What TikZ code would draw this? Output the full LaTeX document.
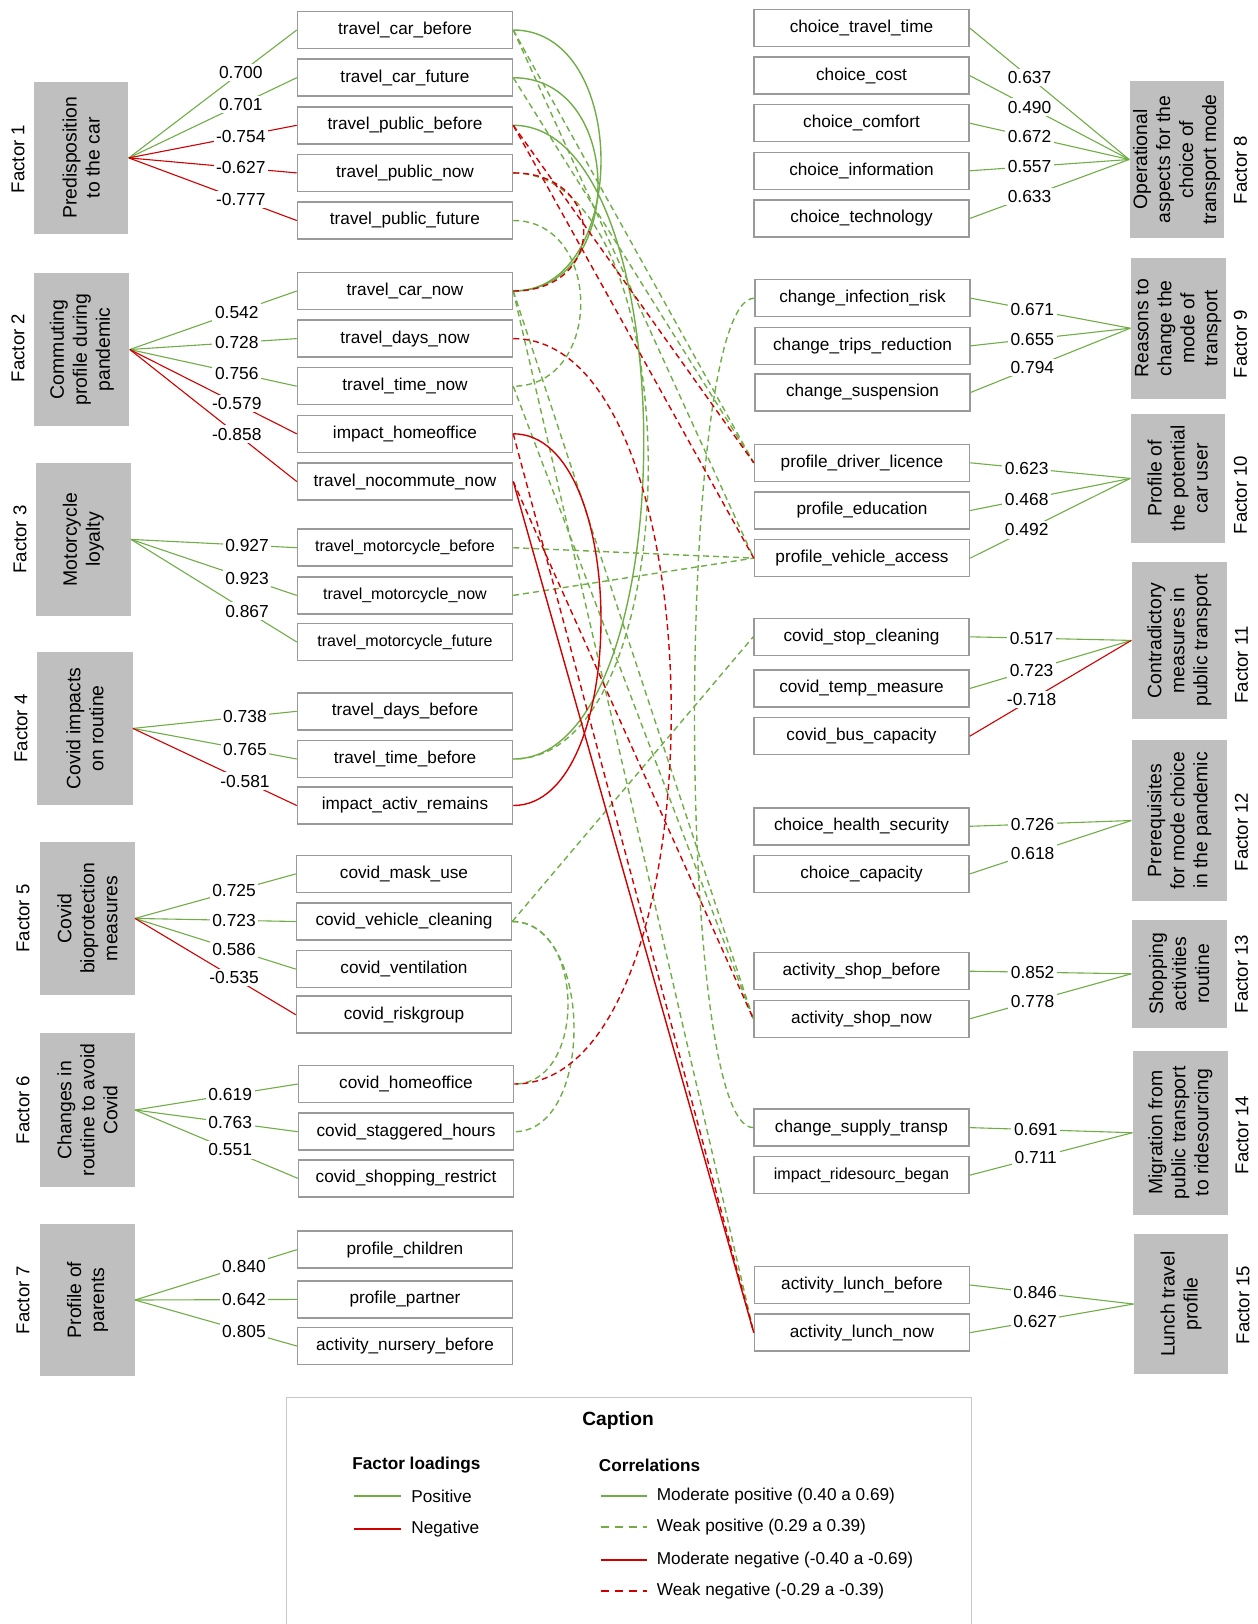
\documentclass[tikz,border=0pt]{standalone}
\usepackage{fontspec}
\setmainfont{Liberation Sans}
\definecolor{lgreen}{HTML}{70AD47}
\definecolor{lred}{HTML}{D00000}
\definecolor{boxgray}{HTML}{9A9A9A}
\definecolor{facgray}{HTML}{BFBFBF}
\definecolor{leggray}{HTML}{C8C8C8}
\tikzset{
  vbox/.style={draw=boxgray, line width=0.75pt, fill=white, minimum width=107.5pt, minimum height=18.5pt, inner sep=0pt, font=\fontsize{8.6}{10}\selectfont},
  vsmall/.style={font=\fontsize{8}{10}\selectfont},
  facbox/.style={fill=facgray, inner sep=0pt},
  factxt/.style={rotate=90, align=center, inner sep=0pt, font=\fontsize{9.7}{11.5}\selectfont},
  facnum/.style={rotate=90, inner sep=0pt, font=\fontsize{9.3}{11}\selectfont},
  load/.style={fill=white, inner sep=1.3pt, font=\fontsize{8.7}{10}\selectfont},
  lpos/.style={draw=lgreen, line width=0.55pt},
  lneg/.style={draw=lred, line width=0.55pt},
  cgs/.style={draw=lgreen, line width=0.7pt},
  cgd/.style={draw=lgreen, line width=0.7pt, dash pattern=on 3pt off 2pt},
  crs/.style={draw=lred, line width=0.7pt},
  crd/.style={draw=lred, line width=0.7pt, dash pattern=on 3pt off 2pt},
  legtxt/.style={anchor=west, inner sep=0pt, font=\fontsize{8.6}{10}\selectfont},
  leghead/.style={anchor=west, inner sep=0pt, font=\fontsize{8.6}{10}\selectfont\bfseries},
}
\begin{document}
\begin{tikzpicture}[x=0.5pt,y=-0.5pt]
\useasboundingbox (0,0) rectangle (1258,1624);

% ---------- left variable boxes ----------
\node[vbox] (carB) at (405,30) {travel\_car\_before};
\node[vbox] (carF) at (405,77.7) {travel\_car\_future};
\node[vbox] (pubB) at (405,125.3) {travel\_public\_before};
\node[vbox] (pubN) at (405,172.9) {travel\_public\_now};
\node[vbox] (pubF) at (405,220.5) {travel\_public\_future};
\node[vbox] (carN) at (405,291) {travel\_car\_now};
\node[vbox] (daysN) at (405,338.6) {travel\_days\_now};
\node[vbox] (timeN) at (405,386.2) {travel\_time\_now};
\node[vbox] (homeoff) at (405,433.8) {impact\_homeoffice};
\node[vbox] (nocomm) at (405,481.5) {travel\_nocommute\_now};
\node[vbox, vsmall] (motoB) at (405,547.7) {travel\_motorcycle\_before};
\node[vbox, vsmall] (motoN) at (405,595.4) {travel\_motorcycle\_now};
\node[vbox, vsmall] (motoF) at (405,642) {travel\_motorcycle\_future};
\node[vbox] (daysB) at (405,711.3) {travel\_days\_before};
\node[vbox] (timeB) at (405,759) {travel\_time\_before};
\node[vbox] (activ) at (405,805.5) {impact\_activ\_remains};
\node[vbox] (mask) at (404,873.9) {covid\_mask\_use};
\node[vbox] (vclean) at (404,921.5) {covid\_vehicle\_cleaning};
\node[vbox] (vent) at (404,969.1) {covid\_ventilation};
\node[vbox] (risk) at (404,1014.7) {covid\_riskgroup};
\node[vbox] (chome) at (406,1084) {covid\_homeoffice};
\node[vbox] (stag) at (406,1131.7) {covid\_staggered\_hours};
\node[vbox] (shoprest) at (406,1178.3) {covid\_shopping\_restrict};
\node[vbox] (child) at (405,1249.7) {profile\_children};
\node[vbox] (partner) at (405,1299.4) {profile\_partner};
\node[vbox] (nursery) at (405,1346) {activity\_nursery\_before};

% ---------- right variable boxes ----------
\node[vbox] (ctime) at (861.5,28) {choice\_travel\_time};
\node[vbox] (ccost) at (861.5,75.6) {choice\_cost};
\node[vbox] (ccomf) at (861.5,123.2) {choice\_comfort};
\node[vbox] (cinfo) at (861.5,170.8) {choice\_information};
\node[vbox] (ctech) at (861.5,218.5) {choice\_technology};
\node[vbox] (infect) at (862.5,298.2) {change\_infection\_risk};
\node[vbox] (trips) at (862.5,345.8) {change\_trips\_reduction};
\node[vbox] (susp) at (862.5,392.4) {change\_suspension};
\node[vbox] (licence) at (862,462.8) {profile\_driver\_licence};
\node[vbox] (educ) at (862,510.5) {profile\_education};
\node[vbox] (vaccess) at (862,558.1) {profile\_vehicle\_access};
\node[vbox] (stopcl) at (861.5,636.8) {covid\_stop\_cleaning};
\node[vbox] (tempm) at (861.5,688.5) {covid\_temp\_measure};
\node[vbox] (busc) at (861.5,736.2) {covid\_bus\_capacity};
\node[vbox] (health) at (861.5,826.3) {choice\_health\_security};
\node[vbox] (capac) at (861.5,873.9) {choice\_capacity};
\node[vbox] (shopB) at (861.5,971.2) {activity\_shop\_before};
\node[vbox] (shopN) at (861.5,1018.8) {activity\_shop\_now};
\node[vbox] (supply) at (861.5,1127.6) {change\_supply\_transp};
\node[vbox, vsmall] (rides) at (861.5,1175.2) {impact\_ridesourc\_began};
\node[vbox] (lunchB) at (862,1285) {activity\_lunch\_before};
\node[vbox] (lunchN) at (862,1332.6) {activity\_lunch\_now};

% ---------- left factor boxes ----------
\node[facbox, minimum width=47.1pt, minimum height=76pt] (F1) at (81.3,157.9) {};
\node[factxt] (F1t) at (F1) {Predisposition\\to the car};
\node[facnum] (F1n) at (18,159) {Factor 1};
\node[facbox, minimum width=47.6pt, minimum height=76.2pt] (F2) at (81.8,349.5) {};
\node[factxt] (F2t) at (F2) {Commuting\\profile during\\pandemic};
\node[facnum] (F2n) at (18,348) {Factor 2};
\node[facbox, minimum width=47.2pt, minimum height=76.6pt] (F3) at (83.4,539.4) {};
\node[factxt] (F3t) at (F3) {Motorcycle\\loyalty};
\node[facnum] (F3n) at (20,539.4) {Factor 3};
\node[facbox, minimum width=47.6pt, minimum height=76.1pt] (F4) at (84.9,728.4) {};
\node[factxt] (F4t) at (F4) {Covid impacts\\on routine};
\node[facnum] (F4n) at (21,728.4) {Factor 4};
\node[facbox, minimum width=47.1pt, minimum height=76.6pt] (F5) at (87.5,918.4) {};
\node[factxt] (F5t) at (F5) {Covid\\bioprotection\\measures};
\node[facnum] (F5n) at (23,918.4) {Factor 5};
\node[facbox, minimum width=47.1pt, minimum height=76.6pt] (F6) at (87.5,1110) {};
\node[factxt] (F6t) at (F6) {Changes in\\routine to avoid\\Covid};
\node[facnum] (F6n) at (23,1110) {Factor 6};
\node[facbox, minimum width=47.1pt, minimum height=76.1pt] (F7) at (87.5,1300) {};
\node[factxt] (F7t) at (F7) {Profile of\\parents};
\node[facnum] (F7n) at (23,1300) {Factor 7};

% ---------- right factor boxes ----------
\node[facbox, minimum width=47.1pt, minimum height=78.7pt] (F8) at (1176.7,159.5) {};
\node[factxt] (F8t) at (F8) {Operational\\aspects for the\\choice of\\transport mode};
\node[facnum] (F8n) at (1240.5,170) {Factor 8};
\node[facbox, minimum width=47.6pt, minimum height=70.4pt] (F9) at (1178.3,328.2) {};
\node[factxt] (F9t) at (F9) {Reasons to\\change the\\mode of\\transport};
\node[facnum] (F9n) at (1240.5,344) {Factor 9};
\node[facbox, minimum width=47.1pt, minimum height=64.1pt] (F10) at (1177.8,478.4) {};
\node[factxt] (F10t) at (F10) {Profile of\\the potential\\car user};
\node[facnum] (F10n) at (1240.5,495) {Factor 10};
\node[facbox, minimum width=47.6pt, minimum height=78.2pt] (F11) at (1179.3,640.4) {};
\node[factxt] (F11t) at (F11) {Contradictory\\measures in\\public transport};
\node[facnum] (F11n) at (1241.5,665) {Factor 11};
\node[facbox, minimum width=47.6pt, minimum height=80.3pt] (F12) at (1179.3,820.5) {};
\node[factxt] (F12t) at (F12) {Prerequisites\\for mode choice\\in the pandemic};
\node[facnum] (F12n) at (1241.5,832) {Factor 12};
\node[facbox, minimum width=47.6pt, minimum height=54.3pt] (F13) at (1179.3,973.8) {};
\node[factxt] (F13t) at (F13) {Shopping\\activities\\routine};
\node[facnum] (F13n) at (1241.5,974) {Factor 13};
\node[facbox, minimum width=47.6pt, minimum height=81.8pt] (F14) at (1180.4,1132.7) {};
\node[factxt] (F14t) at (F14) {Migration from\\public transport\\to ridesourcing};
\node[facnum] (F14n) at (1242,1135) {Factor 14};
\node[facbox, minimum width=47.1pt, minimum height=69.9pt] (F15) at (1181,1304) {};
\node[factxt] (F15t) at (F15) {Lunch travel\\profile};
\node[facnum] (F15n) at (1243,1305) {Factor 15};

% ---------- factor loadings ----------
\draw[lpos] (F1.east) -- node[load,pos=.667] {0.700} (carB.west);
\draw[lpos] (F1.east) -- node[load,pos=.667] {0.701} (carF.west);
\draw[lneg] (F1.east) -- node[load,pos=.667] {-0.754} (pubB.west);
\draw[lneg] (F1.east) -- node[load,pos=.667] {-0.627} (pubN.west);
\draw[lneg] (F1.east) -- node[load,pos=.667] {-0.777} (pubF.west);

\draw[lpos] (F2.east) -- node[load,pos=.641] {0.542} (carN.west);
\draw[lpos] (F2.east) -- node[load,pos=.641] {0.728} (daysN.west);
\draw[lpos] (F2.east) -- node[load,pos=.641] {0.756} (timeN.west);
\draw[lneg] (F2.east) -- node[load,pos=.641] {-0.579} (homeoff.west);
\draw[lneg] (F2.east) -- node[load,pos=.641] {-0.858} (nocomm.west);

\draw[lpos] (F3.east) -- node[load,pos=.70] {0.927} (motoB.west);
\draw[lpos] (F3.east) -- node[load,pos=.70] {0.923} (motoN.west);
\draw[lpos] (F3.east) -- node[load,pos=.70] {0.867} (motoF.west);

\draw[lpos] (F4.east) -- node[load,pos=.684] {0.738} (daysB.west);
\draw[lpos] (F4.east) -- node[load,pos=.684] {0.765} (timeB.west);
\draw[lneg] (F4.east) -- node[load,pos=.684] {-0.581} (activ.west);

\draw[lpos] (F5.east) -- node[load,pos=.616] {0.725} (mask.west);
\draw[lpos] (F5.east) -- node[load,pos=.616] {0.723} (vclean.west);
\draw[lpos] (F5.east) -- node[load,pos=.616] {0.586} (vent.west);
\draw[lneg] (F5.east) -- node[load,pos=.616] {-0.535} (risk.west);

\draw[lpos] (F6.east) -- node[load,pos=.585] {0.619} (chome.west);
\draw[lpos] (F6.east) -- node[load,pos=.585] {0.763} (stag.west);
\draw[lpos] (F6.east) -- node[load,pos=.585] {0.551} (shoprest.west);

\draw[lpos] (F7.east) -- node[load,pos=.674] {0.840} (child.west);
\draw[lpos] (F7.east) -- node[load,pos=.674] {0.642} (partner.west);
\draw[lpos] (F7.east) -- node[load,pos=.674] {0.805} (nursery.west);

\draw[lpos] (ctime.east) -- node[load,pos=.375] {0.637} (F8.west);
\draw[lpos] (ccost.east) -- node[load,pos=.375] {0.490} (F8.west);
\draw[lpos] (ccomf.east) -- node[load,pos=.375] {0.672} (F8.west);
\draw[lpos] (cinfo.east) -- node[load,pos=.375] {0.557} (F8.west);
\draw[lpos] (ctech.east) -- node[load,pos=.375] {0.633} (F8.west);

\draw[lpos] (infect.east) -- node[load,pos=.386] {0.671} (F9.west);
\draw[lpos] (trips.east) -- node[load,pos=.386] {0.655} (F9.west);
\draw[lpos] (susp.east) -- node[load,pos=.386] {0.794} (F9.west);

\draw[lpos] (licence.east) -- node[load,pos=.353] {0.623} (F10.west);
\draw[lpos] (educ.east) -- node[load,pos=.353] {0.468} (F10.west);
\draw[lpos] (vaccess.east) -- node[load,pos=.353] {0.492} (F10.west);

\draw[lpos] (stopcl.east) -- node[load,pos=.383] {0.517} (F11.west);
\draw[lpos] (tempm.east) -- node[load,pos=.383] {0.723} (F11.west);
\draw[lneg] (busc.east) -- node[load,pos=.383] {-0.718} (F11.west);

\draw[lpos] (health.east) -- node[load,pos=.389] {0.726} (F12.west);
\draw[lpos] (capac.east) -- node[load,pos=.389] {0.618} (F12.west);

\draw[lpos] (shopB.east) -- node[load,pos=.389] {0.852} (F13.west);
\draw[lpos] (shopN.east) -- node[load,pos=.389] {0.778} (F13.west);

\draw[lpos] (supply.east) -- node[load,pos=.406] {0.691} (F14.west);
\draw[lpos] (rides.east) -- node[load,pos=.406] {0.711} (F14.west);

\draw[lpos] (lunchB.east) -- node[load,pos=.397] {0.846} (F15.west);
\draw[lpos] (lunchN.east) -- node[load,pos=.397] {0.627} (F15.west);

% ---------- correlations ----------
% moderate positive
\draw[cgs] (carB.east) .. controls +(117,0) and +(117,0) .. (carN.east);
\draw[cgs] (carF.east) .. controls +(113,0) and +(113,0) .. (carN.east);
\draw[cgs] (pubB.east) .. controls +(174,0) and +(174,0) .. (timeB.east);
% weak positive
\draw[cgd] (pubN.east) .. controls +(180,0) and +(180,0) .. (timeB.east);
\draw[cgd] (pubF.east) .. controls +(90,0) and +(90,0) .. (timeN.east);
\draw[cgd] (vclean.east) .. controls +(73,0) and +(73,0) .. (chome.east);
\draw[cgd] (vclean.east) .. controls +(81,0) and +(81,0) .. (stag.east);
\draw[cgd] (infect.west) .. controls +(-79,0) and +(-79,0) .. (supply.west);
\draw[cgd] (carB.east) -- (licence.west);
\draw[cgd] (carB.east) -- (vaccess.west);
\draw[cgd] (carF.east) -- (licence.west);
\draw[cgd] (motoB.east) -- (vaccess.west);
\draw[cgd] (motoN.east) -- (vaccess.west);
\draw[cgd] (vclean.east) -- (stopcl.west);
\draw[cgd] (carN.east) -- (shopN.west);
\draw[cgd] (timeN.east) -- (shopN.west);
\draw[cgd] (carN.east) -- (lunchN.west);
% moderate negative
\draw[crs] (homeoff.east) .. controls +(117,0) and +(117,0) .. (activ.east);
\draw[crs] (nocomm.east) -- (lunchN.west);
% weak negative
\draw[crd] (pubN.east) .. controls +(94,0) and +(94,0) .. (carN.east);
\draw[crd] (daysN.east) .. controls +(210,0) and +(210,0) .. (chome.east);
\draw[crd] (pubB.east) -- (licence.west);
\draw[crd] (pubB.east) -- (vaccess.west);
\draw[crd] (nocomm.east) -- (shopN.west);
\draw[crd] (homeoff.east) -- (lunchN.west);

% ---------- legend ----------
\coordinate (lgA) at (286.8,1630);
\coordinate (lgB) at (286.8,1397.8);
\coordinate (lgC) at (971.2,1397.8);
\coordinate (lgD) at (971.2,1630);
\draw[draw=leggray, line width=0.6pt] (lgA) -- (lgB) -- (lgC) -- (lgD);
\node[inner sep=0pt, font=\fontsize{9.6}{11}\selectfont\bfseries] (cap) at (618,1421) {Caption};
\node[leghead] (flh) at (352,1465) {Factor loadings};
\node[leghead] (corh) at (598.5,1465) {Correlations};

\coordinate (p1a) at (354,1496); \coordinate (p1b) at (400.7,1496);
\draw[lgreen, line width=1pt] (p1a) -- (p1b);
\node[legtxt] (p1t) at (411,1496) {Positive};
\coordinate (p2a) at (354,1529.3); \coordinate (p2b) at (400.7,1529.3);
\draw[lred, line width=1pt] (p2a) -- (p2b);
\node[legtxt] (p2t) at (411,1529.3) {Negative};

\coordinate (c1a) at (600.5,1496); \coordinate (c1b) at (647,1496);
\draw[lgreen, line width=1pt] (c1a) -- (c1b);
\node[legtxt] (c1t) at (656.5,1496) {Moderate positive (0.40 a 0.69)};
\coordinate (c2a) at (600.5,1527.2); \coordinate (c2b) at (647,1527.2);
\draw[lgreen, line width=1pt, dash pattern=on 4pt off 3pt] (c2a) -- (c2b);
\node[legtxt] (c2t) at (656.5,1527.2) {Weak positive (0.29 a 0.39)};
\coordinate (c3a) at (600.5,1560.4); \coordinate (c3b) at (647,1560.4);
\draw[lred, line width=1pt] (c3a) -- (c3b);
\node[legtxt] (c3t) at (656.5,1560.4) {Moderate negative (-0.40 a -0.69)};
\coordinate (c4a) at (600.5,1591.4); \coordinate (c4b) at (647,1591.4);
\draw[lred, line width=1pt, dash pattern=on 4pt off 3pt] (c4a) -- (c4b);
\node[legtxt] (c4t) at (656.5,1591.4) {Weak negative (-0.29 a -0.39)};
\end{tikzpicture}
\end{document}
